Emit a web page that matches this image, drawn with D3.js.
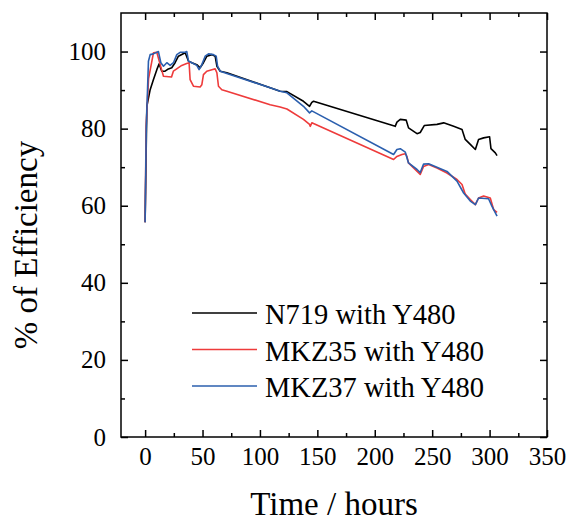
<!DOCTYPE html>
<html>
<head>
<meta charset="utf-8">
<script src="https://cdn.jsdelivr.net/npm/d3@7"></script>
<style>
  body { margin: 0; background: #fff; }
  svg { display: block; }
  text { font-family: "Liberation Serif", "Times New Roman", serif; fill: #000; }
</style>
</head>
<body>
<svg id="chart"></svg>
<script>
// data
const seriesNames = ["N719 with Y480", "MKZ35 with Y480", "MKZ37 with Y480"];
const seriesColors = ["#000000", "#ee3b3b", "#2b5fae"];

const n719Time = [0, 1.5, 4.4, 7.2, 10.2, 12.2, 14.5, 17.4, 20.3, 23.2, 26.1, 29, 34.9, 37.8, 40.7, 45, 47.9, 50.8, 53.8, 58.1, 61, 62.5, 65.4, 71.2, 108.9, 117.6, 123.5, 137.9, 143.2, 145.2, 146.7, 217.8, 219.3, 222.2, 227.4, 229.4, 236.8, 239.6, 243.1, 254.2, 260, 268.7, 276, 278.8, 283.2, 287.6, 290.4, 294.8, 300, 301.2, 305, 306.5];
const n719Eff = [55.7, 85.8, 90.1, 92.7, 95.3, 96.8, 94.9, 94.9, 95.5, 95.8, 97.1, 98.8, 99.7, 97.5, 97.1, 96.6, 95.8, 97.1, 98.8, 99.2, 98.8, 96.2, 94.9, 94.5, 90.6, 89.7, 89.6, 87.1, 85.8, 86.8, 87.1, 80.6, 81.7, 82.4, 82.2, 80.2, 78.7, 79, 80.8, 81.1, 81.5, 80.6, 79.8, 77.2, 75.9, 74.6, 77.2, 77.6, 77.9, 74.8, 73.7, 73];

const mkz35Time = [0, 0.9, 3, 7.3, 10.2, 13.1, 16, 23, 24.6, 27.5, 31.9, 36.2, 38.3, 39.2, 42.1, 47.9, 49.4, 50.8, 53.7, 58.1, 61, 62.5, 63.9, 66.8, 71.2, 108.9, 117.6, 123.5, 137.9, 143.2, 143.8, 145.2, 216.4, 219.3, 223.7, 226.6, 228, 229.4, 233.8, 239.6, 242.5, 246.9, 254.2, 262.9, 271.6, 276, 278.8, 283.2, 287.6, 290.4, 294.8, 300.6, 303.5, 306.5];
const mkz35Eff = [55.7, 80.6, 93, 99.7, 99.8, 96.6, 93.6, 93.4, 94.9, 95.5, 96.4, 96.9, 97.1, 92.7, 91, 90.8, 91.4, 94, 94.9, 95.3, 95.5, 94.5, 91, 90.1, 89.7, 86.2, 85.6, 85.1, 82.4, 81.1, 80.6, 81.5, 72, 72.8, 73.3, 73.5, 72.8, 71.1, 69.8, 68.1, 70.2, 70.7, 69.8, 68.5, 66.8, 65.5, 63, 61.6, 60.3, 62, 62.5, 62, 59, 58.3];

const mkz37Time = [0, 1, 2.9, 4.4, 7.2, 10.2, 11.6, 13.7, 16, 18.9, 21.8, 24.7, 27.6, 30.5, 34.9, 36.3, 37.8, 40.7, 45, 47, 49.4, 52.3, 55.2, 59.5, 61.9, 63.1, 65.4, 71.2, 108.9, 117.6, 123.5, 137.9, 143.2, 145.2, 216.4, 219.3, 222.2, 226.6, 229.4, 236.8, 239.6, 242.5, 246.9, 262.9, 271.6, 277.4, 283.2, 287.6, 290.4, 299.1, 302, 306.5];
const mkz37Eff = [55.7, 80, 97.5, 99.2, 99.4, 99.8, 100, 97.1, 96.2, 97.1, 96.4, 97.1, 99.2, 99.8, 99.8, 100, 97.5, 97.1, 96.4, 95.3, 96.6, 98.8, 99.4, 99.2, 98.8, 96.2, 94.9, 94.3, 90.6, 89.7, 89.3, 85.8, 84.1, 84.6, 73.3, 74.6, 74.8, 73.9, 71.1, 69.4, 68.6, 70.8, 70.9, 68.9, 66.4, 63.3, 61.2, 60.3, 62, 61.8, 59.9, 57.3];

const xMajorTicks = [0, 50, 100, 150, 200, 250, 300, 350];
const xMinorTicks = [25, 75, 125, 175, 225, 275, 325];
const yMajorTicks = [0, 20, 40, 60, 80, 100];
const yMinorTicks = [10, 30, 50, 70, 90];

const width = 569;
const height = 523;
const margin = { top: 13, right: 22, bottom: 86, left: 121 };

const svg = d3.select("#chart").attr("width", width).attr("height", height);

const x = d3.scaleLinear()
  .domain([-21, 350])
  .range([margin.left, width - margin.right]);

const y = d3.scaleLinear()
  .domain([0, 110])
  .range([height - margin.bottom, margin.top]);

const series = [
  { name: seriesNames[0], color: seriesColors[0], time: n719Time, eff: n719Eff },
  { name: seriesNames[1], color: seriesColors[1], time: mkz35Time, eff: mkz35Eff },
  { name: seriesNames[2], color: seriesColors[2], time: mkz37Time, eff: mkz37Eff }
];

const line = d3.line()
  .x(d => x(d[0]))
  .y(d => y(d[1]));

series.forEach(s => {
  svg.append("path")
    .datum(s.time.map((t, i) => [t, s.eff[i]]))
    .attr("fill", "none")
    .attr("stroke", s.color)
    .attr("stroke-width", 1.6)
    .attr("stroke-linejoin", "round")
    .attr("d", line);
});

// axes, ticks pointing inward
const bottom = height - margin.bottom;
const right = width - margin.right;

svg.append("g")
  .attr("transform", `translate(0,${bottom})`)
  .call(d3.axisBottom(x).tickValues(xMajorTicks).tickSize(-7).tickPadding(10))
  .call(g => g.selectAll("text").attr("font-size", 25));

svg.append("g")
  .attr("transform", `translate(0,${bottom})`)
  .call(d3.axisBottom(x).tickValues(xMinorTicks).tickSize(-4).tickFormat(""));

svg.append("g")
  .attr("transform", `translate(0,${margin.top})`)
  .call(d3.axisTop(x).tickValues(xMajorTicks).tickSize(-7).tickFormat(""));

svg.append("g")
  .attr("transform", `translate(0,${margin.top})`)
  .call(d3.axisTop(x).tickValues(xMinorTicks).tickSize(-4).tickFormat(""));

svg.append("g")
  .attr("transform", `translate(${margin.left},0)`)
  .call(d3.axisLeft(y).tickValues(yMajorTicks).tickSize(-7).tickPadding(15))
  .call(g => g.selectAll("text").attr("font-size", 25));

svg.append("g")
  .attr("transform", `translate(${margin.left},0)`)
  .call(d3.axisLeft(y).tickValues(yMinorTicks).tickSize(-4).tickFormat(""));

svg.append("g")
  .attr("transform", `translate(${right},0)`)
  .call(d3.axisRight(y).tickValues(yMajorTicks).tickSize(-7).tickFormat(""));

svg.append("g")
  .attr("transform", `translate(${right},0)`)
  .call(d3.axisRight(y).tickValues(yMinorTicks).tickSize(-4).tickFormat(""));

svg.selectAll(".domain").remove();
svg.selectAll(".tick line").attr("stroke", "#000").attr("stroke-width", 1.5);
svg.selectAll(".tick text").attr("font-family", "Liberation Serif, serif");

// frame
svg.append("rect")
  .attr("x", margin.left)
  .attr("y", margin.top)
  .attr("width", right - margin.left)
  .attr("height", bottom - margin.top)
  .attr("fill", "none")
  .attr("stroke", "#000")
  .attr("stroke-width", 1.5);

// axis titles
svg.append("text")
  .attr("x", (margin.left + right) / 2)
  .attr("y", 515)
  .attr("text-anchor", "middle")
  .attr("font-size", 33)
  .text("Time / hours");

svg.append("text")
  .attr("transform", `translate(37,${(margin.top + bottom) / 2 + 20}) rotate(-90)`)
  .attr("text-anchor", "middle")
  .attr("font-size", 33)
  .text("% of Efficiency");

// legend
const legend = svg.append("g").attr("transform", "translate(192,313)");
series.forEach((s, i) => {
  const row = legend.append("g").attr("transform", `translate(0,${i * 36.5})`);
  row.append("line")
    .attr("x1", 0).attr("x2", 65)
    .attr("stroke", s.color)
    .attr("stroke-width", 1.6);
  row.append("text")
    .attr("x", 73)
    .attr("y", 11)
    .attr("font-size", 28.5)
    .text(s.name);
});
</script>
</body>
</html>
